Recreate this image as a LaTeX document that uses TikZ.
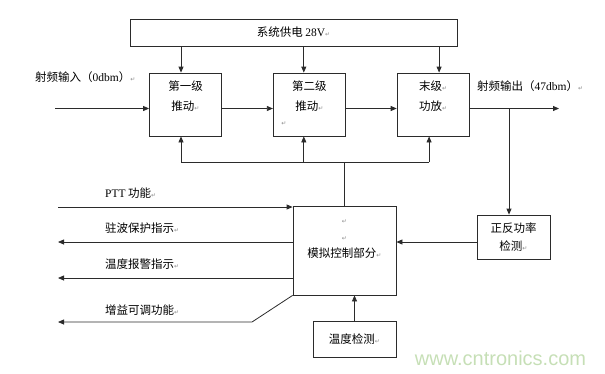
\documentclass[tikz,border=0pt]{standalone}
\usepackage{fontspec}
\setmainfont{Liberation Serif}
\newfontfamily\cjk{Noto Sans CJK SC}
\newfontfamily\symfont{DejaVu Sans}
\newfontfamily\wmfont{Liberation Sans}
\usetikzlibrary{positioning, arrows.meta, calc}
\definecolor{linegray}{HTML}{2B2B2B}
\definecolor{markgray}{HTML}{8A8A8A}
\definecolor{wmgreen}{HTML}{C6DFB6}
\newcommand{\retmark}{{\symfont\fontsize{6}{6}\selectfont\textcolor{markgray}{↵}}}
\newcommand{\en}[1]{{\rmfamily #1}}
\tikzset{
  base/.style={
    draw=linegray,
    line width=0.8pt,
    align=center,
    inner sep=0pt,
    font=\cjk\fontsize{11.5}{17}\selectfont,
  },
  stage/.style={base, minimum width=72pt, minimum height=63pt},
  supply/.style={base, minimum width=327pt, minimum height=27pt},
  lbl/.style={font=\cjk\fontsize{11.5}{14}\selectfont, anchor=west, inner sep=0pt},
  mk/.style={inner sep=0pt},
  wm/.style={font=\wmfont\fontsize{20}{20}\selectfont, text=wmgreen, inner sep=0pt},
  wire/.style={draw=linegray, line width=0.8pt},
  arr/.style={-{Triangle[length=6pt, width=5pt]}, draw=linegray, line width=0.8pt},
}

\begin{document}
\begin{tikzpicture}[x=1pt, y=-1pt]
\useasboundingbox (0,0) rectangle (605,373);

% Power supply and amplifier chain
\node[supply] (sup) at (293.5,32.5) {系统供电 \en{28V}\retmark};
\node[stage] (s1) at (185.5,104.5) {第一级\\[3pt]推动\retmark\\\mbox{}};
\node[stage, right=51pt of s1] (s2) {第二级\\[3pt]推动\retmark\\\mbox{}};
\node[stage, right=51pt of s2] (s3) {末级\retmark\\[3pt]功放\retmark\\\mbox{}};
\node[mk] (m2) at (284,124) {\retmark};

% Control part
\node[base, minimum width=103pt, minimum height=89pt] (ctrl) at (344.5,250.5)
  {\retmark\\\retmark\\模拟控制部分\retmark\\[7pt]\mbox{}};
\node[base, minimum width=73pt, minimum height=44pt] (det) at (513.5,237)
  {正反功率\\[1pt]检测\retmark};
\node[base, minimum width=83pt, minimum height=36pt] (temp) at (354.5,339)
  {温度检测\retmark};

% Labels
\node[lbl] (lin) at (35,77) {射频输入（\en{0dbm}）\retmark};
\node[lbl] (lout) at (477,86) {射频输出（\en{47dbm}）\retmark};
\node[lbl] (lptt) at (105,193) {\en{PTT} 功能\retmark};
\node[lbl] (lvswr) at (105,228) {驻波保护指示\retmark};
\node[lbl] (ltemp) at (105,264) {温度报警指示\retmark};
\node[lbl] (lgain) at (105,310) {增益可调功能\retmark};
\node[wm] (wm) at (500.5,358) {www.cntronics.com};

% --- RF path -----------------------------------------------------------
\coordinate (rfin) at (55,108.5);
\coordinate (rfout) at (559,108.5);
\coordinate (br) at (509,108.5);
\draw[arr] (rfin) -- (rfin -| s1.west);
\foreach \a/\b in {s1/s2, s2/s3}
  {\draw[arr] ([yshift=-4pt]\a.east) -- ([yshift=-4pt]\b.west);}
\draw[arr] ([yshift=-4pt]s3.east) -- (rfout);
\draw[arr] (br) -- (br |- det.north);

% --- Supply feeds --------------------------------------------------------
\foreach \s/\dx in {s1/-4.5, s2/-5.5, s3/6}
  {\coordinate (t\s) at ([xshift=\dx pt]\s.north);
   \draw[arr] (t\s |- sup.south) -- (t\s);}

% --- Control bus ---------------------------------------------------------
\coordinate (busy) at (0,162);
\foreach \s/\dx in {s1/-4.5, s2/-5.5, s3/-4}
  {\coordinate (u\s) at ([xshift=\dx pt]\s.south);}
\draw[wire] (us1 |- busy) -- (us3 |- busy);
\foreach \s in {s1, s2, s3}
  {\draw[arr] (u\s |- busy) -- (u\s);}
\draw[wire] (ctrl.north) -- (ctrl.north |- busy);

% --- Detectors -----------------------------------------------------------
\coordinate (fb) at ([yshift=-5pt]det.west);
\draw[arr] (fb) -- (fb -| ctrl.east);
\draw[arr] (temp.north) -- (temp.north |- ctrl.south);

% --- Left side signals ---------------------------------------------------
\coordinate (ptt) at (58,207);
\coordinate (vswr) at (58,242);
\coordinate (talarm) at (58,278);
\coordinate (gain) at (58,322);
\coordinate (gbend) at (252,322);
\draw[arr] (ptt) -- (ptt -| ctrl.west);
\foreach \c in {vswr, talarm}
  {\draw[arr] (\c -| ctrl.west) -- (\c);}
\draw[arr] (ctrl.south west) -- (gbend) -- (gain);

\end{tikzpicture}
\end{document}
